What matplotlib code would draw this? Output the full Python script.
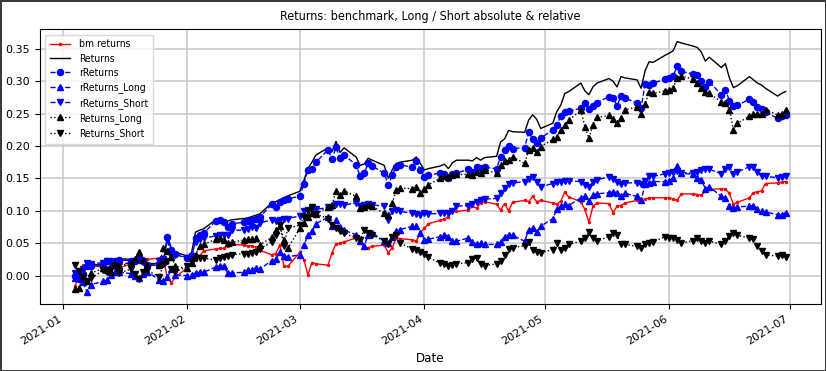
import pandas as pd
import matplotlib
matplotlib.use('Agg')
import matplotlib.pyplot as plt
import matplotlib.dates as mdates
from matplotlib.ticker import FormatStrFormatter

plt.rcParams['font.family'] = ['DejaVu Sans']
plt.rcParams['font.stretch'] = 'condensed'

dates = pd.bdate_range('2021-01-04', '2021-06-30')

bm_returns = [
    -0.016, 0.001, 0.016, 0.018, 0.015,
    0.013, 0.012, 0.016, 0.014, 0.012,
    0.018, 0.022, 0.026, 0.027, 0.025,
    0.027, 0.026, -0.004, -0.011, -0.002,
    0.012, 0.020, 0.024, 0.030, 0.038,
    0.041, 0.042, 0.042, 0.046, 0.048,
    0.047, 0.046, 0.046, 0.044, 0.039,
    0.032, 0.034, 0.047, 0.015, 0.014,
    0.036, 0.024, 0.001, 0.020, 0.018,
    0.016, 0.035, 0.049, 0.050, 0.052,
    0.058, 0.055, 0.042, 0.043, 0.045,
    0.047, 0.035, 0.043, 0.058, 0.057,
    0.055, 0.053, 0.066, 0.073, 0.080,
    0.085, 0.087, 0.091, 0.099, 0.099,
    0.101, 0.107, 0.104, 0.112, 0.114,
    0.110, 0.101, 0.111, 0.100, 0.113,
    0.116, 0.114, 0.122, 0.114, 0.116,
    0.112, 0.110, 0.115, 0.129, 0.121,
    0.114, 0.102, 0.082, 0.107, 0.112,
    0.111, 0.097, 0.107, 0.108, 0.112,
    0.116, 0.117, 0.118, 0.120, 0.120,
    0.120, 0.120, 0.118, 0.116, 0.126,
    0.126, 0.125, 0.124, 0.130, 0.133,
    0.134, 0.133, 0.127, 0.110, 0.113,
    0.120, 0.128, 0.129, 0.131, 0.142,
    0.143, 0.144, 0.145,
]

returns = [
    0.002, -0.004, 0.004, 0.015, 0.016,
    0.018, 0.024, 0.024, 0.025, 0.026,
    0.025, 0.026, 0.027, 0.025, 0.019,
    0.018, 0.022, 0.060, 0.042, 0.036,
    0.030, 0.035, 0.067, 0.070, 0.072,
    0.086, 0.087, 0.086, 0.084, 0.086,
    0.088, 0.089, 0.091, 0.093, 0.095,
    0.112, 0.114, 0.117, 0.120, 0.123,
    0.130, 0.147, 0.165, 0.175, 0.186,
    0.197, 0.191, 0.207, 0.190, 0.197,
    0.183, 0.170, 0.172, 0.181, 0.178,
    0.170, 0.150, 0.163, 0.173, 0.175,
    0.178, 0.183, 0.173, 0.163, 0.165,
    0.169, 0.172, 0.165, 0.174, 0.178,
    0.178, 0.177, 0.182, 0.178, 0.182,
    0.184, 0.206, 0.211, 0.224, 0.222,
    0.221, 0.240, 0.248, 0.241, 0.227,
    0.235, 0.253, 0.263, 0.281, 0.284,
    0.297, 0.285, 0.279, 0.291, 0.297,
    0.304, 0.300, 0.291, 0.307, 0.305,
    0.302, 0.289, 0.316, 0.330, 0.329,
    0.340, 0.343, 0.347, 0.361, 0.359,
    0.354, 0.352, 0.345, 0.331, 0.337,
    0.321, 0.327, 0.305, 0.290, 0.293,
    0.307, 0.302, 0.297, 0.294, 0.289,
    0.277, 0.281, 0.284,
]

r_returns = [
    0.000, -0.006, 0.002, 0.014, 0.014,
    0.016, 0.023, 0.022, 0.023, 0.024,
    0.023, 0.023, 0.024, 0.023, 0.016,
    0.016, 0.019, 0.059, 0.040, 0.034,
    0.027, 0.026, 0.058, 0.062, 0.065,
    0.084, 0.085, 0.082, 0.075, 0.080,
    0.082, 0.084, 0.086, 0.087, 0.090,
    0.110, 0.105, 0.114, 0.117, 0.118,
    0.123, 0.142, 0.163, 0.165, 0.175,
    0.194, 0.180, 0.198, 0.181, 0.186,
    0.171, 0.153, 0.158, 0.173, 0.169,
    0.158, 0.140, 0.155, 0.168, 0.171,
    0.167, 0.176, 0.163, 0.152, 0.155,
    0.158, 0.157, 0.150, 0.156, 0.158,
    0.164, 0.160, 0.167, 0.166, 0.167,
    0.165, 0.183, 0.194, 0.200, 0.196,
    0.197, 0.222, 0.210, 0.204, 0.212,
    0.225, 0.232, 0.246, 0.253, 0.254,
    0.258, 0.267, 0.257, 0.261, 0.267,
    0.276, 0.274, 0.262, 0.277, 0.274,
    0.266, 0.259, 0.295, 0.294, 0.297,
    0.303, 0.305, 0.308, 0.323, 0.315,
    0.311, 0.309, 0.300, 0.291, 0.299,
    0.279, 0.287, 0.270, 0.262, 0.263,
    0.272, 0.268, 0.260, 0.257, 0.252,
    0.243, 0.246, 0.248,
]

r_returns_long = [
    -0.004, 0.002, -0.010, -0.026, -0.014,
    -0.009, -0.007, 0.001, 0.006, 0.005,
    0.003, 0.000, -0.004, 0.002, 0.006,
    -0.007, -0.009, -0.003, 0.010, 0.001,
    0.000, 0.001, 0.004, 0.005, 0.005,
    0.013, 0.015, 0.014, 0.004, 0.004,
    0.005, 0.008, 0.008, 0.012, 0.010,
    0.023, 0.025, 0.037, 0.030, 0.029,
    0.032, 0.047, 0.062, 0.068, 0.080,
    0.090, 0.077, 0.086, 0.075, 0.070,
    0.063, 0.053, 0.045, 0.063, 0.066,
    0.053, 0.050, 0.060, 0.068, 0.071,
    0.076, 0.077, 0.066, 0.055, 0.056,
    0.060, 0.063, 0.060, 0.053, 0.053,
    0.058, 0.051, 0.048, 0.050, 0.048,
    0.048, 0.052, 0.060, 0.063, 0.062,
    0.053, 0.071, 0.073, 0.067, 0.076,
    0.088, 0.102, 0.107, 0.110, 0.108,
    0.120, 0.122, 0.115, 0.125, 0.126,
    0.128, 0.129, 0.128, 0.122, 0.127,
    0.122, 0.116, 0.141, 0.143, 0.145,
    0.145, 0.146, 0.150, 0.169, 0.158,
    0.156, 0.150, 0.148, 0.134, 0.137,
    0.122, 0.120, 0.107, 0.104, 0.106,
    0.107, 0.108, 0.102, 0.100, 0.098,
    0.094, 0.094, 0.097,
]

r_returns_short = [
    0.004, -0.006, 0.010, 0.020, 0.018,
    0.020, 0.022, 0.018, 0.015, 0.017,
    0.020, 0.022, 0.026, 0.021, 0.012,
    0.022, 0.026, 0.055, 0.030, 0.032,
    0.027, 0.030, 0.052, 0.056, 0.058,
    0.061, 0.062, 0.063, 0.063, 0.070,
    0.070, 0.072, 0.075, 0.074, 0.081,
    0.086, 0.084, 0.086, 0.087, 0.088,
    0.092, 0.099, 0.101, 0.102, 0.102,
    0.105, 0.105, 0.111, 0.110, 0.109,
    0.112, 0.108, 0.109, 0.111, 0.109,
    0.107, 0.086, 0.099, 0.101, 0.099,
    0.096, 0.095, 0.094, 0.096, 0.095,
    0.096, 0.097, 0.096, 0.099, 0.107,
    0.108, 0.110, 0.114, 0.116, 0.118,
    0.119, 0.127, 0.135, 0.141, 0.143,
    0.145, 0.149, 0.152, 0.144, 0.137,
    0.142, 0.145, 0.145, 0.146, 0.146,
    0.145, 0.140, 0.137, 0.145, 0.148,
    0.152, 0.149, 0.145, 0.141, 0.143,
    0.143, 0.141, 0.146, 0.153, 0.153,
    0.157, 0.159, 0.160, 0.161, 0.159,
    0.158, 0.160, 0.163, 0.165, 0.164,
    0.157, 0.165, 0.168, 0.157, 0.160,
    0.168, 0.167, 0.160, 0.153, 0.153,
    0.151, 0.152, 0.153,
]

returns_long = [
    -0.021, -0.019, 0.000, -0.009, 0.004,
    0.011, 0.008, 0.006, 0.018, 0.014,
    0.020, 0.025, 0.037, 0.024, 0.016,
    0.016, 0.043, 0.038, 0.029, 0.014,
    0.011, 0.020, 0.032, 0.045, 0.048,
    0.056, 0.058, 0.055, 0.050, 0.051,
    0.055, 0.056, 0.057, 0.058, 0.047,
    0.059, 0.070, 0.076, 0.055, 0.042,
    0.073, 0.081, 0.091, 0.096, 0.095,
    0.106, 0.109, 0.131, 0.124, 0.131,
    0.122, 0.104, 0.106, 0.109, 0.107,
    0.096, 0.094, 0.112, 0.132, 0.135,
    0.134, 0.136, 0.127, 0.133, 0.140,
    0.150, 0.153, 0.152, 0.155, 0.156,
    0.156, 0.155, 0.160, 0.158, 0.163,
    0.158, 0.170, 0.176, 0.178, 0.183,
    0.173, 0.194, 0.197, 0.191, 0.199,
    0.210, 0.214, 0.225, 0.232, 0.240,
    0.255, 0.230, 0.212, 0.232, 0.244,
    0.247, 0.241, 0.236, 0.243, 0.256,
    0.260, 0.250, 0.264, 0.284, 0.281,
    0.285, 0.287, 0.290, 0.305, 0.308,
    0.303, 0.297, 0.290, 0.283, 0.281,
    0.268, 0.266, 0.256, 0.225, 0.235,
    0.246, 0.249, 0.250, 0.250, 0.256,
    0.248, 0.250, 0.256,
]

returns_short = [
    0.016, 0.007, -0.002, -0.009, -0.004,
    0.008, 0.006, 0.010, 0.014, 0.004,
    0.010, 0.002, -0.005, 0.005, 0.008,
    -0.002, 0.018, 0.022, 0.010, 0.006,
    0.014, 0.022, 0.027, 0.027, 0.027,
    0.024, 0.027, 0.029, 0.030, 0.032,
    0.034, 0.034, 0.035, 0.037, 0.041,
    0.052, 0.062, 0.078, 0.046, 0.073,
    0.078, 0.091, 0.099, 0.106, 0.095,
    0.088, 0.078, 0.073, 0.068, 0.065,
    0.058, 0.055, 0.071, 0.066, 0.063,
    0.053, 0.048, 0.060, 0.062, 0.050,
    0.041, 0.040, 0.036, 0.033, 0.028,
    0.019, 0.018, 0.015, 0.017, 0.018,
    0.020, 0.026, 0.027, 0.018, 0.015,
    0.018, 0.022, 0.032, 0.041, 0.043,
    0.046, 0.051, 0.039, 0.036, 0.035,
    0.040, 0.050, 0.040, 0.043, 0.048,
    0.053, 0.058, 0.067, 0.058, 0.053,
    0.060, 0.065, 0.062, 0.048, 0.048,
    0.045, 0.042, 0.048, 0.050, 0.052,
    0.060, 0.058, 0.058, 0.055, 0.050,
    0.054, 0.058, 0.053, 0.050, 0.053,
    0.048, 0.054, 0.061, 0.065, 0.062,
    0.058, 0.056, 0.045, 0.038, 0.032,
    0.030, 0.031, 0.029,
]

title = 'Returns: benchmark, Long / Short absolute & relative'

fig = plt.figure(figsize=(8.26, 3.71), dpi=100)
fig.patch.set_edgecolor('#3a3a3a')
fig.patch.set_linewidth(2.0)
ax = fig.add_axes([0.048, 0.181, 0.946, 0.740])

ms = 4.4
ax.plot(dates, bm_returns, color='red', linestyle='-', marker='.', markersize=3, linewidth=1.0, label='bm returns')
ax.plot(dates, returns, color='black', linestyle='-', linewidth=1.0, label='Returns')
ax.plot(dates, r_returns, color='blue', linestyle='--', marker='o', markersize=ms, linewidth=1.0, label='rReturns')
ax.plot(dates, r_returns_long, color='blue', linestyle='--', marker='^', markersize=ms, linewidth=1.0, label='rReturns_Long')
ax.plot(dates, r_returns_short, color='blue', linestyle='--', marker='v', markersize=ms, linewidth=1.0, label='rReturns_Short')
ax.plot(dates, returns_long, color='black', linestyle=':', marker='^', markersize=ms, linewidth=1.0, label='Returns_Long')
ax.plot(dates, returns_short, color='black', linestyle=':', marker='v', markersize=ms, linewidth=1.0, label='Returns_Short')

ax.set_xlim(pd.Timestamp('2020-12-26 04:00'), pd.Timestamp('2021-07-08 20:00'))
ax.set_ylim(-0.0437, 0.380)
ax.xaxis.set_major_locator(mdates.MonthLocator())
ax.xaxis.set_major_formatter(mdates.DateFormatter('%Y-%m'))
ax.yaxis.set_major_formatter(FormatStrFormatter('%.2f'))
ax.set_yticks([0.0, 0.05, 0.10, 0.15, 0.20, 0.25, 0.30, 0.35])
ax.tick_params(labelsize=8)
for lbl in ax.get_xticklabels() + ax.get_yticklabels():
    lbl.set_fontstretch('normal')
for lbl in ax.get_xticklabels():
    lbl.set_rotation(32)
    lbl.set_ha('right')
ax.grid(True, color='#c8c8c8', linewidth=1.1)
ax.set_axisbelow(True)
ax.set_title(title, fontsize=9, pad=7)
ax.set_xlabel('Date', fontsize=9.5)
leg = ax.legend(loc='upper left', fontsize=7.5, labelspacing=0.42, handlelength=2.0,
                borderpad=0.45, fancybox=False, edgecolor='#d0d0d0')

fig.savefig('out.png', dpi=100, edgecolor=fig.get_edgecolor())
